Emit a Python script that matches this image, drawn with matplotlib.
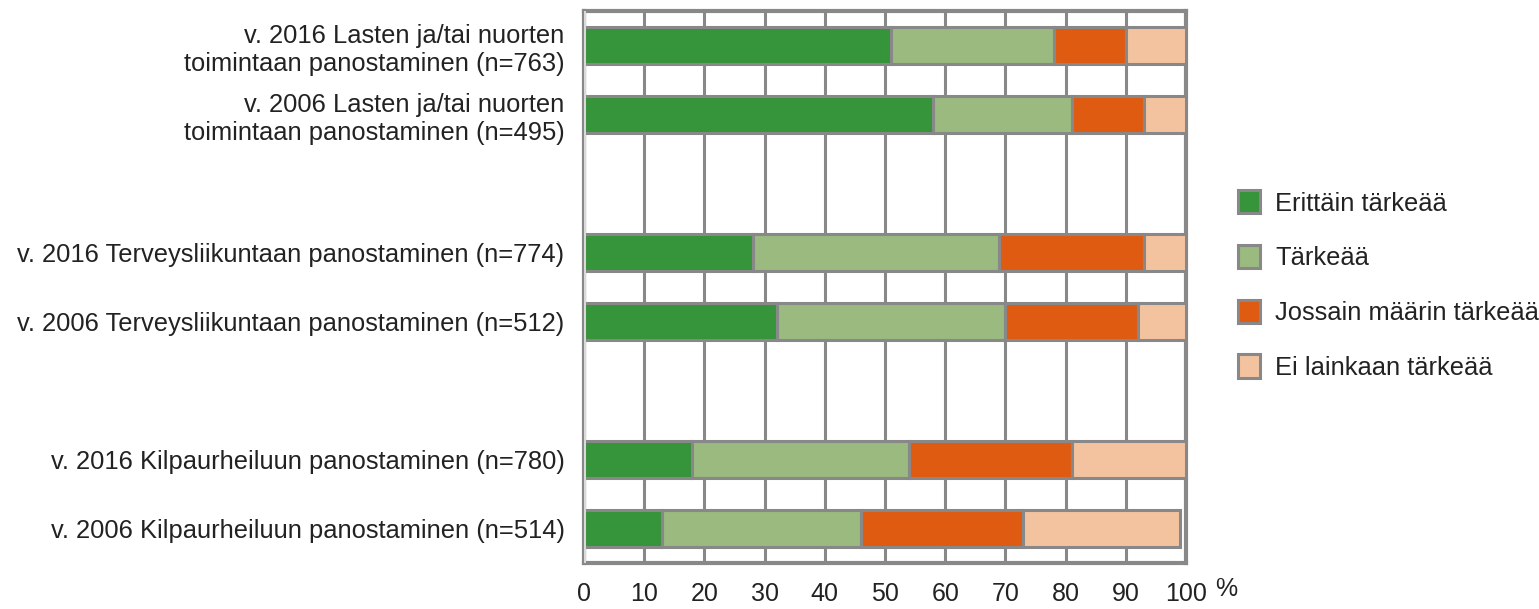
import numpy as np
import matplotlib.pyplot as plt
from matplotlib.patches import Patch

plt.rcParams['font.family'] = ['Liberation Sans', 'DejaVu Sans']

# kyselyn vastaukset (%), järjestys ylhäältä alas
labels = [
    'v. 2016 Lasten ja/tai nuorten\ntoimintaan panostaminen (n=763)',
    'v. 2006 Lasten ja/tai nuorten\ntoimintaan panostaminen (n=495)',
    'v. 2016 Terveysliikuntaan panostaminen (n=774)',
    'v. 2006 Terveysliikuntaan panostaminen (n=512)',
    'v. 2016 Kilpaurheiluun panostaminen (n=780)',
    'v. 2006 Kilpaurheiluun panostaminen (n=514)',
]
erittain = [51, 58, 28, 32, 18, 13]
tarkea = [27, 23, 41, 38, 36, 33]
jossain = [12, 12, 24, 22, 27, 27]
ei_lainkaan = [10, 7, 7, 8, 19, 26]

series = ['Erittäin tärkeää', 'Tärkeää', 'Jossain määrin tärkeää', 'Ei lainkaan tärkeää']
colors = ['#36943a', '#9aba7f', '#e05b12', '#f3c39f']
values = np.array([erittain, tarkea, jossain, ei_lainkaan], dtype=float)

grey = '#888888'
txt = '#222222'
fs = 18.4

# kaksi palkkia per ryhmä, tyhjä rivi ryhmien välissä
ypos = np.array([(i // 2) * 3 + i % 2 for i in range(len(labels))])

fig = plt.figure(figsize=(15.39, 6.09), dpi=100)
ax = fig.add_axes([584 / 1539, 1 - 563 / 609, (1186 - 584) / 1539, (563 - 11) / 609])

left = np.zeros(len(labels))
for vals, col in zip(values, colors):
    ax.barh(ypos, vals, left=left, height=0.55, color=col,
            edgecolor=grey, linewidth=2.2, zorder=3)
    left += vals

ax.set_xlim(0, 100)
ax.set_ylim(7.5, -0.5)
ax.set_xticks(np.arange(0, 101, 10))
ax.set_yticks(ypos)
ax.set_yticklabels(labels, fontsize=fs, color=txt, multialignment='right')
ax.tick_params(axis='x', length=0, pad=14, labelsize=18, labelcolor=txt)
ax.tick_params(axis='y', length=0, pad=14)
ax.xaxis.grid(True, color=grey, linewidth=2.2, zorder=0)
ax.set_axisbelow(True)
ax.axvline(0, color='#d9d9d9', linewidth=2.2, zorder=5)
for s in ax.spines.values():
    s.set_color(grey)
    s.set_linewidth(3)

ax.text(1.066, -14 / 552, '%', transform=ax.transAxes, fontsize=18, color=txt,
        ha='center', va='top')

handles = [Patch(facecolor=c, edgecolor=grey, linewidth=2.2) for c in colors]
fig.legend(handles, series, loc='center left', bbox_to_anchor=(1215 / 1539, 1 - 285 / 609),
           frameon=False, fontsize=fs, handlelength=0.86, handleheight=1.02,
           handletextpad=0.59, labelspacing=1.15, labelcolor=txt)

fig.savefig('out.png', dpi=100)
